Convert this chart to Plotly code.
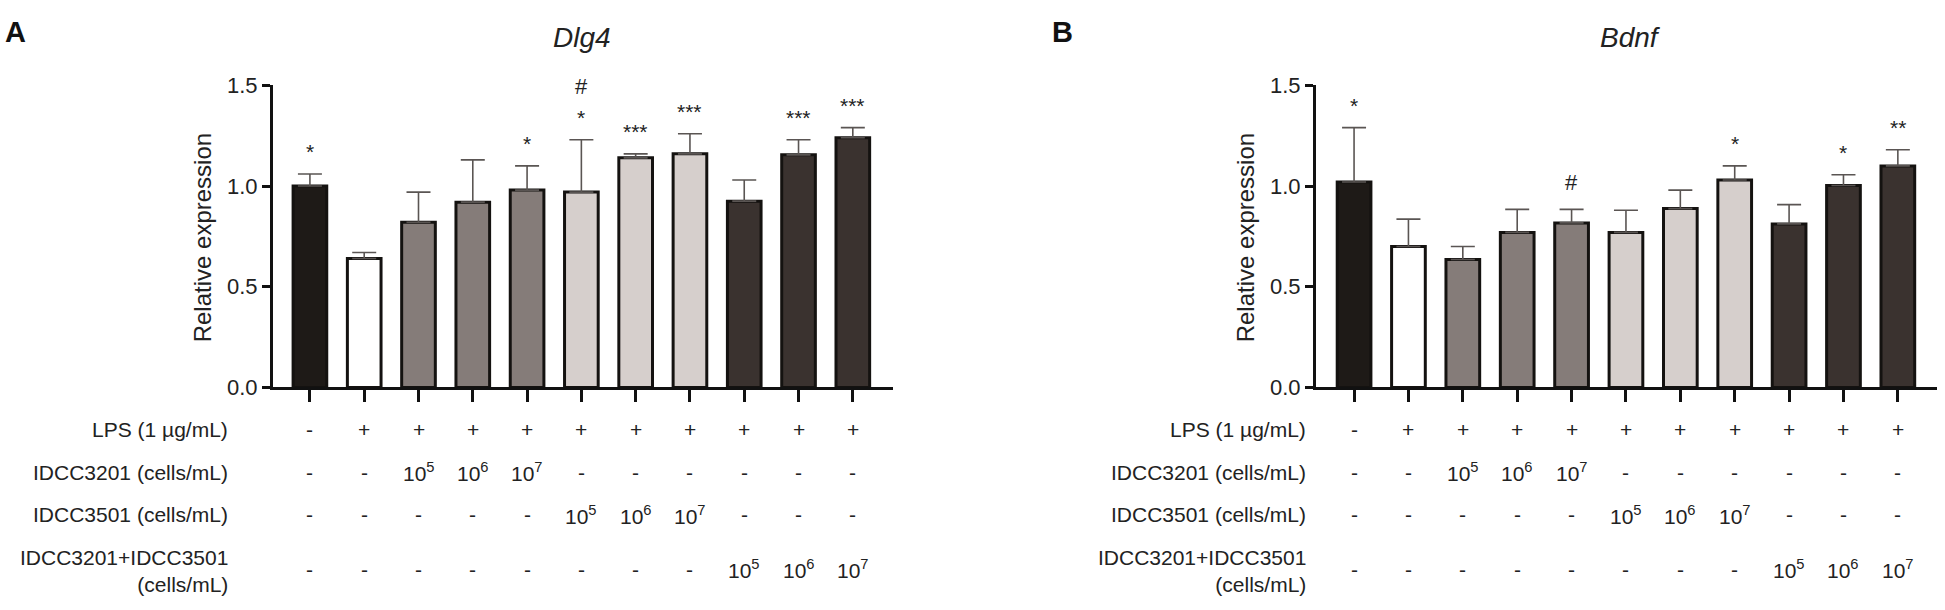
import plotly.graph_objects as go

# ---------------- data ----------------
n_groups = 11
group_idx = list(range(n_groups))

dlg4_mean = [1.00, 0.64, 0.82, 0.92, 0.98, 0.97, 1.14, 1.16, 0.925, 1.155, 1.24]
dlg4_sd   = [0.06, 0.03, 0.15, 0.21, 0.12, 0.26, 0.02, 0.10, 0.105, 0.075, 0.05]
dlg4_sig  = ["*", "", "", "", "*", "*", "***", "***", "", "***", "***"]
dlg4_hash = ["", "", "", "", "", "#", "", "", "", "", ""]

bdnf_mean = [1.02, 0.70, 0.635, 0.77, 0.817, 0.77, 0.888, 1.03, 0.812, 1.003, 1.10]
bdnf_sd   = [0.27, 0.136, 0.065, 0.114, 0.067, 0.11, 0.092, 0.07, 0.096, 0.053, 0.08]
bdnf_sig  = ["*", "", "", "", "", "", "", "*", "", "*", "**"]
bdnf_hash = ["", "", "", "", "#", "", "", "", "", "", ""]

bar_colors = ["#1e1a17", "#ffffff", "#857c79", "#857c79", "#857c79",
              "#d6cfcc", "#d6cfcc", "#d6cfcc", "#3a322f", "#3a322f", "#3a322f"]

row_labels = ["LPS (1 \u00b5g/mL)", "IDCC3201 (cells/mL)", "IDCC3501 (cells/mL)",
              "IDCC3201+IDCC3501<br>(cells/mL)"]
row_values = [
    ["-", "+", "+", "+", "+", "+", "+", "+", "+", "+", "+"],
    ["-", "-", "10<sup>5</sup>", "10<sup>6</sup>", "10<sup>7</sup>", "-", "-", "-", "-", "-", "-"],
    ["-", "-", "-", "-", "-", "10<sup>5</sup>", "10<sup>6</sup>", "10<sup>7</sup>", "-", "-", "-"],
    ["-", "-", "-", "-", "-", "-", "-", "-", "10<sup>5</sup>", "10<sup>6</sup>", "10<sup>7</sup>"],
]

titles = ["Dlg4", "Bdnf"]
panel_letters = ["A", "B"]
yticks = [0.0, 0.5, 1.0, 1.5]
ytick_text = ["0.0", "0.5", "1.0", "1.5"]

# ---------------- layout geometry ----------------
W, H = 1945, 610
FONT = "Liberation Sans, Arial, sans-serif"
y_dom = [1 - 391.5 / H, 1 - 76.5 / H]
x_doms = [[273 / W, 893 / W], [1316 / W, 1937 / W]]
x_ranges = [[-0.68, 10.74], [-0.70, 10.72]]
row_y_px = [435, 480, 524, 581]
row_label_y_px = [435, 480, 524, 583]
row_label_right_px = [230, 1308]
title_x_px = [582, 1630]
letter_x_px = [3, 1050]
ytitle_x_px = [202, 1245]

fig = go.Figure()

panels = [
    (dlg4_mean, dlg4_sd, dlg4_sig, dlg4_hash),
    (bdnf_mean, bdnf_sd, bdnf_sig, bdnf_hash),
]

annotations = []
for p, (mean, sd, sig, hsh) in enumerate(panels):
    xa = "x" if p == 0 else "x2"
    ya = "y" if p == 0 else "y2"
    fig.add_trace(go.Bar(
        x=group_idx, y=mean, xaxis=xa, yaxis=ya,
        width=0.62,
        marker=dict(color=bar_colors, line=dict(color="#141210", width=3)),
        error_y=dict(type="data", array=sd, arrayminus=[0] * n_groups, symmetric=False,
                     color="#5a5553", thickness=1.6, width=12),
        showlegend=False, hoverinfo="skip",
    ))
    # significance marks
    for i in range(n_groups):
        top = mean[i] + sd[i]
        if sig[i]:
            annotations.append(dict(x=i, y=top, xref=xa, yref=ya, text=sig[i],
                                    showarrow=False, yanchor="middle", yshift=22,
                                    font=dict(family=FONT, size=21, color="#222")))
        if hsh[i]:
            shift = 53 if sig[i] else 27
            annotations.append(dict(x=i, y=top, xref=xa, yref=ya, text=hsh[i],
                                    showarrow=False, yanchor="middle", yshift=shift,
                                    font=dict(family=FONT, size=22, color="#222")))
    # treatment table
    for r, vals in enumerate(row_values):
        for i, v in enumerate(vals):
            annotations.append(dict(x=i, y=1 - row_y_px[r] / H, xref=xa, yref="paper",
                                    text=v, showarrow=False, xanchor="center", yanchor="middle",
                                    font=dict(family=FONT, size=21, color="#222")))
        annotations.append(dict(x=row_label_right_px[p] / W, y=1 - row_label_y_px[r] / H,
                                xref="paper", yref="paper", text=row_labels[r],
                                showarrow=False, xanchor="right", yanchor="middle", align="right",
                                font=dict(family=FONT, size=21, color="#222")))
    # title
    annotations.append(dict(x=title_x_px[p] / W, y=1 - 27 / H, xref="paper", yref="paper",
                            text="<i>%s</i>" % titles[p], showarrow=False,
                            xanchor="center", yanchor="middle",
                            font=dict(family=FONT, size=28, color="#222")))
    # panel letter
    annotations.append(dict(x=letter_x_px[p] / W, y=1 - 21 / H, xref="paper", yref="paper",
                            text="<b>%s</b>" % panel_letters[p], showarrow=False,
                            xanchor="left", yanchor="middle",
                            font=dict(family=FONT, size=29, color="#111")))
    # y axis title
    annotations.append(dict(x=ytitle_x_px[p] / W, y=1 - 236 / H, xref="paper", yref="paper",
                            text="Relative expression", showarrow=False, textangle=-90,
                            xanchor="center", yanchor="middle",
                            font=dict(family=FONT, size=24, color="#222")))

axis_common = dict(showgrid=False, zeroline=False, showline=True, linecolor="#111", linewidth=3)

fig.update_layout(
    width=W, height=H, margin=dict(l=0, r=0, t=0, b=0),
    paper_bgcolor="white", plot_bgcolor="white",
    bargap=0.3,
    annotations=annotations,
    xaxis=dict(domain=x_doms[0], range=x_ranges[0], anchor="y",
               tickvals=group_idx, ticktext=[""] * n_groups,
               ticks="outside", ticklen=12, tickwidth=3, tickcolor="#111", **axis_common),
    yaxis=dict(domain=y_dom, range=[0, 1.5], anchor="x",
               tickvals=yticks, ticktext=ytick_text, ticks="outside", ticklen=8, tickwidth=3,
               tickcolor="#111", tickfont=dict(family=FONT, size=22, color="#222"), **axis_common),
    xaxis2=dict(domain=x_doms[1], range=x_ranges[1], anchor="y2",
                tickvals=group_idx, ticktext=[""] * n_groups,
                ticks="outside", ticklen=12, tickwidth=3, tickcolor="#111", **axis_common),
    yaxis2=dict(domain=y_dom, range=[0, 1.5], anchor="x2",
                tickvals=yticks, ticktext=ytick_text, ticks="outside", ticklen=8, tickwidth=3,
                tickcolor="#111", tickfont=dict(family=FONT, size=22, color="#222"), **axis_common),
)

fig.write_html("out.html")
